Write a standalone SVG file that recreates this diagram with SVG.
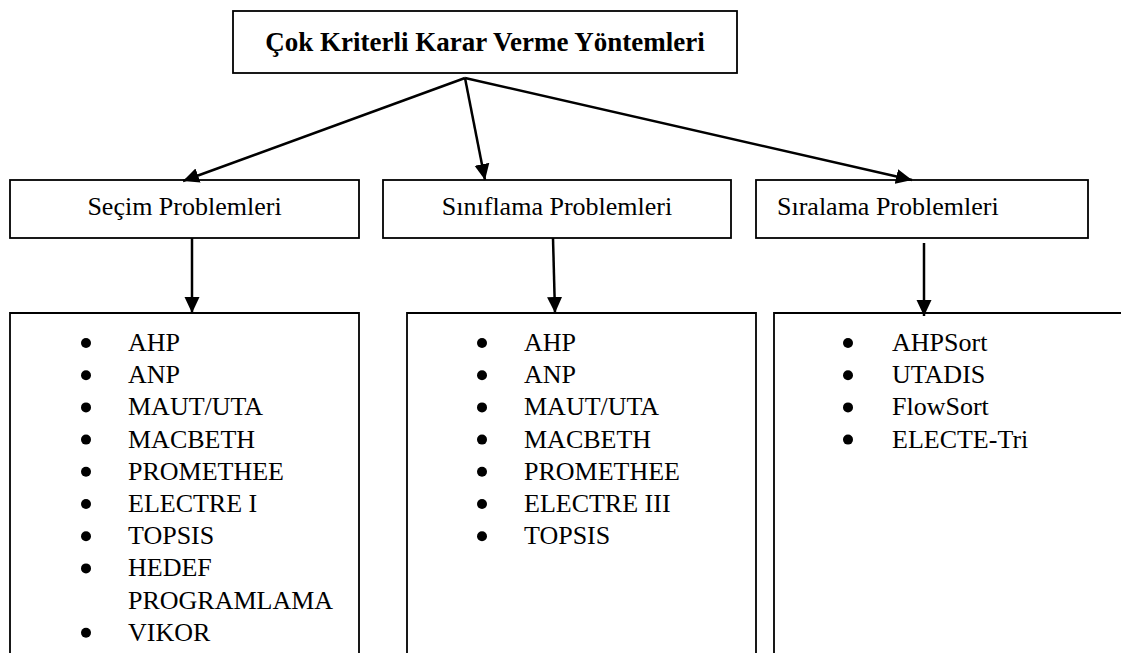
<svg xmlns="http://www.w3.org/2000/svg" width="1121" height="653" viewBox="0 0 1121 653">
<defs>
<style>
.box{fill:#fff;stroke:#000;stroke-width:1.8}
.conn{fill:none;stroke:#000;stroke-width:2.5}
.t{font-family:"Liberation Serif","Times New Roman",serif;font-size:26px;fill:#000}
.title{font-family:"Liberation Serif","Times New Roman",serif;font-size:27px;font-weight:bold;fill:#000}
.dot{fill:#000}
</style>
<marker id="ah" markerUnits="userSpaceOnUse" markerWidth="18" markerHeight="18" viewBox="0 0 18 18" refX="16" refY="9" orient="auto">
<path d="M0,1.5 L16,9 L0,16.5 Z" fill="#000"/>
</marker>
</defs>
<rect width="1121" height="653" fill="#fff"/>
<g id="root">
<rect class="box" x="233" y="11" width="504" height="62"/>
<text class="title" x="485" y="51" text-anchor="middle">Çok Kriterli Karar Verme Yöntemleri</text>
</g>
<g id="secim">
<rect class="box" x="10" y="180" width="349" height="58"/>
<text class="t" x="184.5" y="215" text-anchor="middle">Seçim Problemleri</text>
</g>
<g id="siniflama">
<rect class="box" x="383" y="180" width="348" height="58"/>
<text class="t" x="557" y="215" text-anchor="middle">Sınıflama Problemleri</text>
</g>
<g id="siralama">
<rect class="box" x="756" y="180" width="332" height="58"/>
<text class="t" x="777" y="215">Sıralama Problemleri</text>
</g>
<g id="secim-list">
<path class="box" d="M10,660 V313 H359 V660"/>
<g class="dot">
<circle cx="86" cy="343" r="5"/><circle cx="86" cy="375.2" r="5"/><circle cx="86" cy="407.4" r="5"/><circle cx="86" cy="439.6" r="5"/><circle cx="86" cy="471.8" r="5"/><circle cx="86" cy="504" r="5"/><circle cx="86" cy="536.2" r="5"/><circle cx="86" cy="568.4" r="5"/><circle cx="86" cy="632.8" r="5"/>
</g>
<text class="t" x="128" y="351">AHP</text>
<text class="t" x="128" y="383.2">ANP</text>
<text class="t" x="128" y="415.4">MAUT/UTA</text>
<text class="t" x="128" y="447.6">MACBETH</text>
<text class="t" x="128" y="479.8">PROMETHEE</text>
<text class="t" x="128" y="512">ELECTRE I</text>
<text class="t" x="128" y="544.2">TOPSIS</text>
<text class="t" x="128" y="576.4">HEDEF</text>
<text class="t" x="128" y="608.6">PROGRAMLAMA</text>
<text class="t" x="128" y="640.8">VIKOR</text>
</g>
<g id="siniflama-list">
<path class="box" d="M407,660 V313 H756 V660"/>
<g class="dot">
<circle cx="482" cy="343" r="5"/><circle cx="482" cy="375.2" r="5"/><circle cx="482" cy="407.4" r="5"/><circle cx="482" cy="439.6" r="5"/><circle cx="482" cy="471.8" r="5"/><circle cx="482" cy="504" r="5"/><circle cx="482" cy="536.2" r="5"/>
</g>
<text class="t" x="524" y="351">AHP</text>
<text class="t" x="524" y="383.2">ANP</text>
<text class="t" x="524" y="415.4">MAUT/UTA</text>
<text class="t" x="524" y="447.6">MACBETH</text>
<text class="t" x="524" y="479.8">PROMETHEE</text>
<text class="t" x="524" y="512">ELECTRE III</text>
<text class="t" x="524" y="544.2">TOPSIS</text>
</g>
<g id="siralama-list">
<path class="box" d="M774,660 V313 H1130"/>
<g class="dot">
<circle cx="848" cy="343" r="5"/><circle cx="848" cy="375.2" r="5"/><circle cx="848" cy="407.4" r="5"/><circle cx="848" cy="439.6" r="5"/>
</g>
<text class="t" x="892" y="351">AHPSort</text>
<text class="t" x="892" y="383.2">UTADIS</text>
<text class="t" x="892" y="415.4">FlowSort</text>
<text class="t" x="892" y="447.6">ELECTE-Tri</text>
</g>
<g id="connectors">
<line class="conn" x1="465" y1="78" x2="183" y2="181" marker-end="url(#ah)"/>
<line class="conn" x1="465" y1="78" x2="485" y2="180" marker-end="url(#ah)"/>
<line class="conn" x1="465" y1="78" x2="912" y2="180" marker-end="url(#ah)"/>
<line class="conn" x1="192" y1="238" x2="192" y2="313" marker-end="url(#ah)"/>
<line class="conn" x1="553" y1="238" x2="555" y2="313" marker-end="url(#ah)"/>
<line class="conn" x1="924" y1="243" x2="924" y2="316" marker-end="url(#ah)"/>
</g>
</svg>
